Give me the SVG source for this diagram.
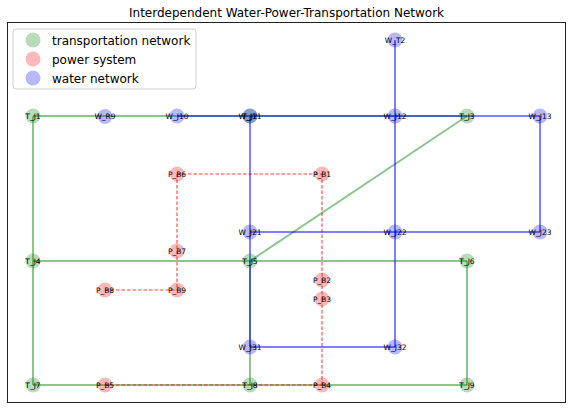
<svg xmlns="http://www.w3.org/2000/svg" width="572" height="410" viewBox="0 0 572 410">
<style>
.t{stroke:#008000;stroke-opacity:0.45;stroke-width:2;fill:none}
.p{stroke:#ff0000;stroke-opacity:0.5;stroke-width:1.6;stroke-dasharray:3.5,2;fill:none}
.w{stroke:#0000ff;stroke-opacity:0.5;stroke-width:2;fill:none}
.nt{fill:#008000;fill-opacity:0.28}
.np{fill:#ff0000;fill-opacity:0.28}
.nw{fill:#0000ff;fill-opacity:0.28}
.lb{font-family:"DejaVu Sans",sans-serif;font-size:7.5px;fill:#000;text-anchor:middle;dominant-baseline:central}
.lg{font-family:"DejaVu Sans",sans-serif;font-size:12px;fill:#000}
</style>
<rect width="572" height="410" fill="#fff"/>
<text x="286.5" y="17" text-anchor="middle" font-family="DejaVu Sans, sans-serif" font-size="12" fill="#000">Interdependent Water-Power-Transportation Network</text>
<rect x="7.5" y="22.5" width="558" height="380" fill="none" stroke="#222" stroke-width="1"/>
<g id="connectors">
<line class="t" x1="33" y1="116" x2="250" y2="116"/>
<line class="t" x1="250" y1="116" x2="467" y2="116"/>
<line class="t" x1="33" y1="116" x2="33" y2="261"/>
<line class="t" x1="33" y1="261" x2="33" y2="385"/>
<line class="t" x1="33" y1="261" x2="250" y2="261"/>
<line class="t" x1="250" y1="261" x2="467" y2="261"/>
<line class="t" x1="467" y1="116" x2="250" y2="261"/>
<line class="t" x1="250" y1="261" x2="250" y2="385"/>
<line class="t" x1="467" y1="261" x2="467" y2="385"/>
<line class="t" x1="33" y1="385" x2="250" y2="385"/>
<line class="t" x1="250" y1="385" x2="467" y2="385"/>
<line class="p" x1="177" y1="174" x2="322" y2="174"/>
<line class="p" x1="177" y1="174" x2="177" y2="251"/>
<line class="p" x1="177" y1="251" x2="177" y2="290"/>
<line class="p" x1="105" y1="290" x2="177" y2="290"/>
<line class="p" x1="322" y1="174" x2="322" y2="280"/>
<line class="p" x1="322" y1="280" x2="322" y2="299"/>
<line class="p" x1="322" y1="299" x2="322" y2="385"/>
<line class="p" x1="105" y1="385" x2="322" y2="385"/>
<line class="w" x1="177" y1="116" x2="250" y2="116"/>
<line class="w" x1="250" y1="116" x2="395" y2="116"/>
<line class="w" x1="395" y1="116" x2="540" y2="116"/>
<line class="w" x1="395" y1="40" x2="395" y2="116"/>
<line class="w" x1="395" y1="116" x2="395" y2="232"/>
<line class="w" x1="395" y1="232" x2="395" y2="347"/>
<line class="w" x1="540" y1="116" x2="540" y2="232"/>
<line class="w" x1="250" y1="116" x2="250" y2="232"/>
<line class="w" x1="250" y1="232" x2="250" y2="347"/>
<line class="w" x1="250" y1="232" x2="395" y2="232"/>
<line class="w" x1="395" y1="232" x2="540" y2="232"/>
<line class="w" x1="250" y1="347" x2="395" y2="347"/>
</g>
<g id="T_J1"><circle class="nt" cx="33" cy="116" r="7.5"/><text class="lb" x="33" y="116">T_J1</text></g>
<g id="T_J2"><circle class="nt" cx="250" cy="116" r="7.5"/><text class="lb" x="250" y="116">T_J2</text></g>
<g id="T_J3"><circle class="nt" cx="467" cy="116" r="7.5"/><text class="lb" x="467" y="116">T_J3</text></g>
<g id="T_J4"><circle class="nt" cx="33" cy="261" r="7.5"/><text class="lb" x="33" y="261">T_J4</text></g>
<g id="T_J5"><circle class="nt" cx="250" cy="261" r="7.5"/><text class="lb" x="250" y="261">T_J5</text></g>
<g id="T_J6"><circle class="nt" cx="467" cy="261" r="7.5"/><text class="lb" x="467" y="261">T_J6</text></g>
<g id="T_J7"><circle class="nt" cx="33" cy="385" r="7.5"/><text class="lb" x="33" y="385">T_J7</text></g>
<g id="T_J8"><circle class="nt" cx="250" cy="385" r="7.5"/><text class="lb" x="250" y="385">T_J8</text></g>
<g id="T_J9"><circle class="nt" cx="467" cy="385" r="7.5"/><text class="lb" x="467" y="385">T_J9</text></g>
<g id="P_B1"><circle class="np" cx="322" cy="174" r="7.5"/><text class="lb" x="322" y="174">P_B1</text></g>
<g id="P_B2"><circle class="np" cx="322" cy="280" r="7.5"/><text class="lb" x="322" y="280">P_B2</text></g>
<g id="P_B3"><circle class="np" cx="322" cy="299" r="7.5"/><text class="lb" x="322" y="299">P_B3</text></g>
<g id="P_B4"><circle class="np" cx="322" cy="385" r="7.5"/><text class="lb" x="322" y="385">P_B4</text></g>
<g id="P_B5"><circle class="np" cx="105" cy="385" r="7.5"/><text class="lb" x="105" y="385">P_B5</text></g>
<g id="P_B6"><circle class="np" cx="177" cy="174" r="7.5"/><text class="lb" x="177" y="174">P_B6</text></g>
<g id="P_B7"><circle class="np" cx="177" cy="251" r="7.5"/><text class="lb" x="177" y="251">P_B7</text></g>
<g id="P_B8"><circle class="np" cx="105" cy="290" r="7.5"/><text class="lb" x="105" y="290">P_B8</text></g>
<g id="P_B9"><circle class="np" cx="177" cy="290" r="7.5"/><text class="lb" x="177" y="290">P_B9</text></g>
<g id="W_T2"><circle class="nw" cx="395" cy="40" r="7.5"/><text class="lb" x="395" y="40">W_T2</text></g>
<g id="W_R9"><circle class="nw" cx="105" cy="116.5" r="7.5"/><text class="lb" x="105" y="116.5">W_R9</text></g>
<g id="W_J10"><circle class="nw" cx="177" cy="116" r="7.5"/><text class="lb" x="177" y="116">W_J10</text></g>
<g id="W_J11"><circle class="nw" cx="250" cy="116" r="7.5"/><text class="lb" x="250" y="116">W_J11</text></g>
<g id="W_J12"><circle class="nw" cx="395" cy="116" r="7.5"/><text class="lb" x="395" y="116">W_J12</text></g>
<g id="W_J13"><circle class="nw" cx="540" cy="116" r="7.5"/><text class="lb" x="540" y="116">W_J13</text></g>
<g id="W_J21"><circle class="nw" cx="250" cy="232" r="7.5"/><text class="lb" x="250" y="232">W_J21</text></g>
<g id="W_J22"><circle class="nw" cx="395" cy="232" r="7.5"/><text class="lb" x="395" y="232">W_J22</text></g>
<g id="W_J23"><circle class="nw" cx="540" cy="232" r="7.5"/><text class="lb" x="540" y="232">W_J23</text></g>
<g id="W_J31"><circle class="nw" cx="250" cy="347" r="7.5"/><text class="lb" x="250" y="347">W_J31</text></g>
<g id="W_J32"><circle class="nw" cx="395" cy="347" r="7.5"/><text class="lb" x="395" y="347">W_J32</text></g>
<g id="legend">
<rect x="13" y="29" width="183" height="60" rx="3" fill="#fff" fill-opacity="0.8" stroke="#d0d0d0" stroke-width="1"/>
<circle class="nt" cx="33" cy="40" r="7.5"/><text class="lg" x="52" y="44.5">transportation network</text>
<circle class="np" cx="33" cy="59" r="7.5"/><text class="lg" x="52" y="63.5">power system</text>
<circle class="nw" cx="33" cy="78" r="7.5"/><text class="lg" x="52" y="82.5">water network</text>
</g>
</svg>
